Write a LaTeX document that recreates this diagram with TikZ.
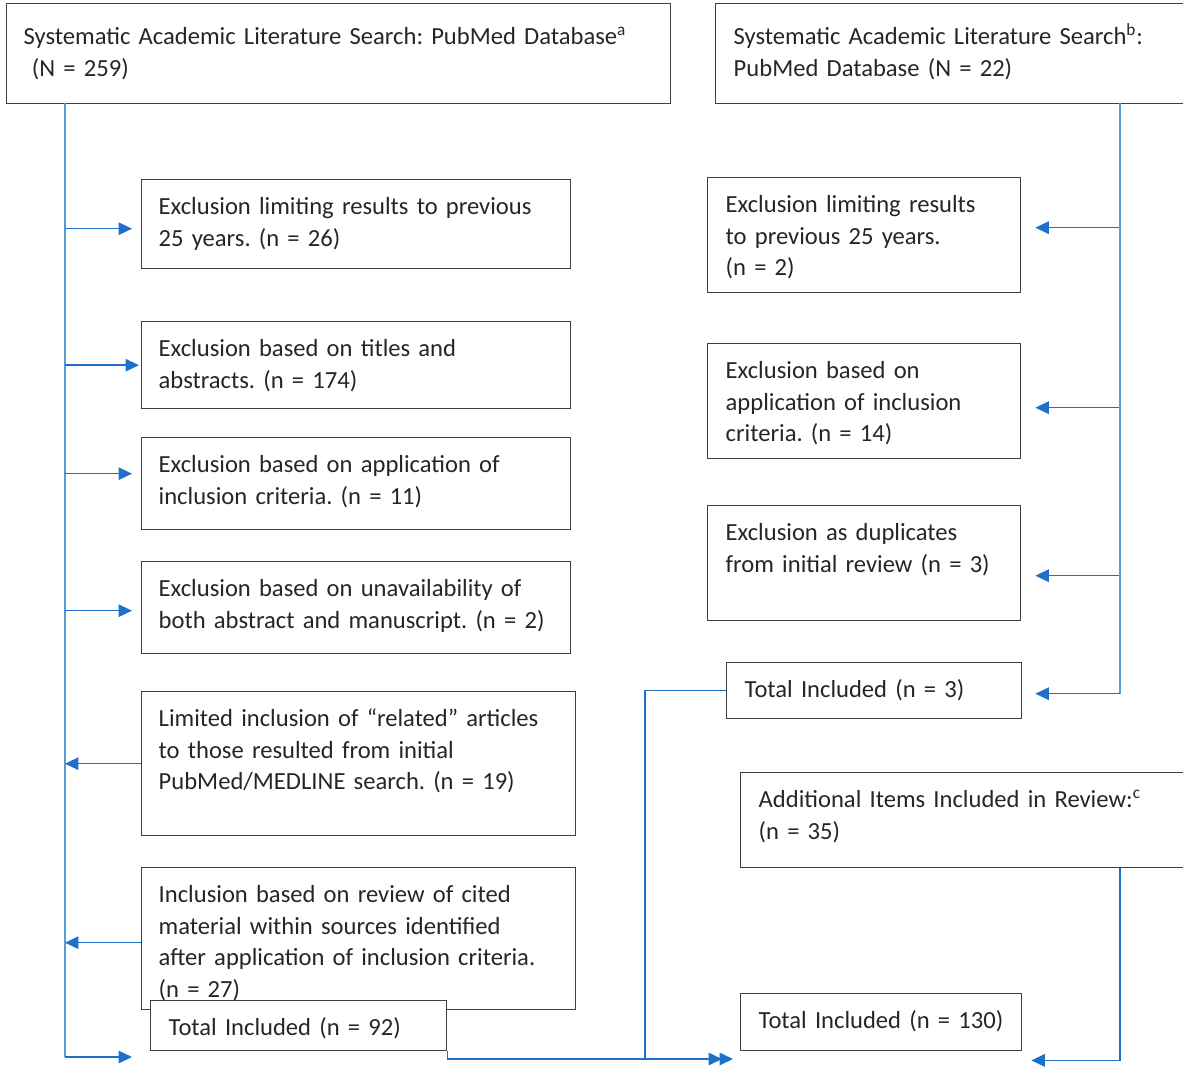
\documentclass[tikz,border=0pt]{standalone}
\usepackage{fontspec}
\setmainfont{Carlito}
\usepackage{tikz}
\usepackage{xcolor}
\usetikzlibrary{arrows.meta}
\usetikzlibrary{positioning}

\definecolor{colorBord}{HTML}{3F3F3F}
\definecolor{colorTronc}{HTML}{5B9BD5}
\definecolor{colorFleche}{HTML}{1F70C8}
\def\colorBord{colorBord}
\def\colorTronc{colorTronc}
\def\colorFleche{colorFleche}
\hyphenpenalty=10000
\frenchspacing

\tikzset{
    boite/.style = {draw=\colorBord, line width=0.8pt, fill=white, anchor=north west,
        align=left, inner xsep=0.36cm, inner ysep=0pt, text height=0.70cm,
        font=\fontsize{14pt}{17.9pt}\selectfont, text=black!85},
    tronc/.style = {line width=1.1pt, color=\colorTronc},
    fleche/.style = {line width=0.9pt, color=\colorFleche,
        -{Triangle[length=0.27cm, width=0.25cm]}},
}

\begin{document}
\begin{tikzpicture}[x=0.02cm, y=-0.02cm]
    \useasboundingbox (0,0) rectangle (1183,1085);

    % Recherche principale (colonne de gauche)
    \node[boite, inner xsep=0.34cm, text width=12.6cm, text height=0.82cm, text depth=1.18cm] (a) at (6,3)
        {Systematic Academic Literature Search: PubMed Database\textsuperscript{a}\\\ (N = 259)};

    % Recherche secondaire (colonne de droite)
    \node[boite, text width=8.7cm, text height=0.82cm, text depth=1.18cm] (b) at (715,3)
        {Systematic Academic Literature Search\textsuperscript{b}:\\PubMed Database (N = 22)};

    % Boites de gauche
    \node[boite, inner xsep=0.34cm, text width=7.9cm, text depth=1.08cm] (l1) at (141,179)
        {Exclusion limiting results to previous\\25 years. (n = 26)};
    \node[boite, inner xsep=0.34cm, text width=7.9cm, text depth=1.04cm] (l2) at (141,321)
        {Exclusion based on titles and\\abstracts. (n = 174)};
    \node[boite, inner xsep=0.34cm, text width=7.9cm, text depth=1.14cm] (l3) at (141,437)
        {Exclusion based on application of\\inclusion criteria. (n = 11)};
    \node[boite, inner xsep=0.34cm, text width=7.9cm, text depth=1.14cm] (l4) at (141,561)
        {Exclusion based on unavailability of\\both abstract and manuscript. (n = 2)};
    \node[boite, inner xsep=0.34cm, text width=8.0cm, text depth=2.18cm] (l5) at (141,691)
        {Limited inclusion of “related” articles\\to those resulted from initial\\PubMed/MEDLINE search. (n = 19)};
    \node[boite, inner xsep=0.34cm, text width=8.0cm, text depth=2.14cm] (l6) at (141,867)
        {Inclusion based on review of cited\\material within sources identified\\after application of inclusion criteria.\\(n = 27)};
    \node[boite, text width=5.2cm, text depth=0.30cm] (l7) at (150,1000)
        {Total Included (n = 92)};

    % Boites de droite
    \node[boite, text width=5.54cm, text depth=1.60cm] (r1) at (707,177)
        {Exclusion limiting results\\to previous 25 years.\\(n = 2)};
    \node[boite, text width=5.54cm, text depth=1.60cm] (r2) at (707,343)
        {Exclusion based on\\application of inclusion\\criteria. (n = 14)};
    \node[boite, text width=5.54cm, text depth=1.60cm] (r3) at (707,505)
        {Exclusion as duplicates\\from initial review (n = 3)};
    \node[boite, text width=5.18cm, text depth=0.42cm] (r4) at (726,662)
        {Total Included (n = 3)};
    \node[boite, text width=8.2cm, text depth=1.20cm] (r5) at (740,772)
        {Additional Items Included in Review:\textsuperscript{c}\\(n = 35)};
    \node[boite, text width=4.9cm, text depth=0.44cm] (r6) at (740,993)
        {Total Included (n = 130)};

    % Troncs verticaux
    \coordinate (gtronc) at (65,103);
    \coordinate (gfin) at (132,1057);
    \coordinate (dtronc) at (1120,103);
    \coordinate (arrivee) at (733,1059);
    \coordinate (arrivee2) at (722,1059);

    \draw[tronc] (gtronc) -- (gtronc |- gfin);
    \draw[fleche] (gtronc |- gfin) -- (gfin);

    % Exclusions a gauche
    \foreach \b/\dx/\dy in {l1/-0.18/-0.09, l2/-0.04/0, l3/-0.18/0.2, l4/-0.18/-0.06} {
        \coordinate (c\b) at ([xshift=\dx cm, yshift=\dy cm]\b.west);
        \draw[fleche] (gtronc |- c\b) -- (c\b);
    }

    % Inclusions vers le tronc de gauche
    \draw[fleche] (l5.west) -- (gtronc |- l5.west);
    \coordinate (cl6) at ([yshift=-0.08cm]l6.west);
    \draw[fleche] (cl6) -- (gtronc |- cl6);

    % Exclusions a droite
    \foreach \b/\dy in {r1/0.15, r2/-0.13, r3/-0.25} {
        \coordinate (c\b) at ([xshift=0.28cm, yshift=\dy cm]\b.east);
        \draw[fleche] (dtronc |- c\b) -- (c\b);
    }
    \coordinate (cr4) at ([xshift=0.26cm, yshift=-0.06cm]r4.east);
    \draw[tronc] (dtronc) -- (dtronc |- cr4);
    \draw[fleche] (dtronc |- cr4) -- (cr4);

    % Vers le total final
    \coordinate (cr6) at ([xshift=0.18cm, yshift=-0.18cm]r6.south east);
    \draw[fleche] (r5.south -| dtronc) |- (cr6);
    \draw[fleche] (r4.west) -- ++(-81,0) |- (arrivee2);
    \draw[fleche] (l7.south east) |- (arrivee);
\end{tikzpicture}
\end{document}
